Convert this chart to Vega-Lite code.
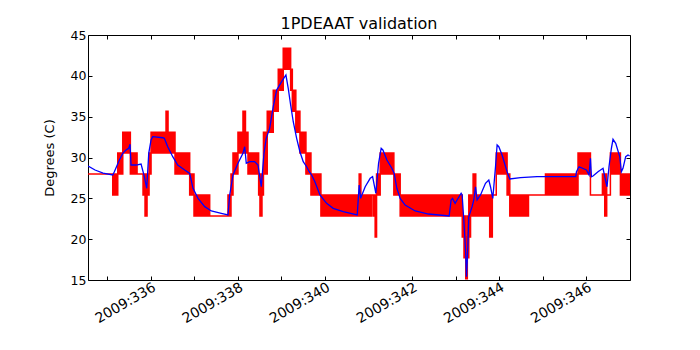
{
  "$schema": "https://vega.github.io/schema/vega-lite/v6.json",
  "width": 542,
  "height": 245,
  "autosize": {"type": "none"},
  "padding": {"left": 88, "top": 35, "right": 70, "bottom": 70},
  "background": "white",
  "title": {"text": "1PDEAAT validation", "fontSize": 16, "font": "DejaVu Sans", "fontWeight": "normal", "color": "black", "offset": 7, "baseline": "alphabetic", "dy": 23},
  "config": {
    "view": {"stroke": "black", "strokeWidth": 1},
    "axis": {"grid": false, "domain": false, "labelFont": "DejaVu Sans", "labelFontSize": 12, "labelColor": "black", "tickColor": "black", "tickWidth": 1, "titleFont": "DejaVu Sans", "titleFontSize": 13, "titleFontWeight": "normal", "titleColor": "black", "labelOverlap": false, "labelFlush": false}
  },
  "datasets": {
    "red": [
      {"t": 334.562, "lo": 27.97, "hi": 27.97},
      {"t": 335.128, "lo": 25.40, "hi": 27.97},
      {"t": 335.243, "lo": 27.97, "hi": 30.54},
      {"t": 335.358, "lo": 30.54, "hi": 33.10},
      {"t": 335.532, "lo": 27.97, "hi": 30.54},
      {"t": 335.686, "lo": 27.97, "hi": 27.97},
      {"t": 335.823, "lo": 25.40, "hi": 27.97},
      {"t": 335.869, "lo": 22.84, "hi": 27.97},
      {"t": 335.915, "lo": 25.40, "hi": 27.97},
      {"t": 335.961, "lo": 27.97, "hi": 30.54},
      {"t": 336.007, "lo": 30.54, "hi": 33.10},
      {"t": 336.351, "lo": 30.54, "hi": 35.67},
      {"t": 336.397, "lo": 30.54, "hi": 33.10},
      {"t": 336.557, "lo": 27.97, "hi": 30.54},
      {"t": 336.894, "lo": 25.40, "hi": 27.97},
      {"t": 336.993, "lo": 22.84, "hi": 25.40},
      {"t": 337.353, "lo": 22.84, "hi": 22.84},
      {"t": 337.773, "lo": 22.84, "hi": 25.40},
      {"t": 337.842, "lo": 25.40, "hi": 27.97},
      {"t": 337.888, "lo": 27.97, "hi": 30.54},
      {"t": 338.002, "lo": 30.54, "hi": 33.10},
      {"t": 338.117, "lo": 30.54, "hi": 35.67},
      {"t": 338.174, "lo": 30.54, "hi": 33.10},
      {"t": 338.232, "lo": 27.97, "hi": 30.54},
      {"t": 338.477, "lo": 25.40, "hi": 27.97},
      {"t": 338.507, "lo": 22.84, "hi": 27.97},
      {"t": 338.553, "lo": 25.40, "hi": 27.97},
      {"t": 338.587, "lo": 27.97, "hi": 33.10},
      {"t": 338.674, "lo": 33.10, "hi": 35.67},
      {"t": 338.812, "lo": 35.67, "hi": 38.24},
      {"t": 338.927, "lo": 38.24, "hi": 40.80},
      {"t": 339.041, "lo": 40.80, "hi": 43.37},
      {"t": 339.211, "lo": 38.24, "hi": 40.80},
      {"t": 339.250, "lo": 35.67, "hi": 38.24},
      {"t": 339.330, "lo": 33.10, "hi": 35.67},
      {"t": 339.424, "lo": 30.54, "hi": 33.10},
      {"t": 339.562, "lo": 27.97, "hi": 30.54},
      {"t": 339.677, "lo": 25.40, "hi": 27.97},
      {"t": 339.906, "lo": 22.84, "hi": 25.40},
      {"t": 340.784, "lo": 22.84, "hi": 27.97},
      {"t": 340.823, "lo": 22.84, "hi": 25.40},
      {"t": 341.076, "lo": 25.40, "hi": 25.40},
      {"t": 341.115, "lo": 22.84, "hi": 25.40},
      {"t": 341.151, "lo": 20.27, "hi": 25.40},
      {"t": 341.183, "lo": 25.40, "hi": 27.97},
      {"t": 341.266, "lo": 27.97, "hi": 30.54},
      {"t": 341.580, "lo": 25.40, "hi": 27.97},
      {"t": 341.725, "lo": 22.84, "hi": 25.40},
      {"t": 343.150, "lo": 20.27, "hi": 22.84},
      {"t": 343.190, "lo": 17.71, "hi": 22.84},
      {"t": 343.230, "lo": 15.14, "hi": 20.27},
      {"t": 343.266, "lo": 17.71, "hi": 22.84},
      {"t": 343.300, "lo": 20.27, "hi": 25.40},
      {"t": 343.340, "lo": 22.84, "hi": 25.40},
      {"t": 343.399, "lo": 22.84, "hi": 27.97},
      {"t": 343.460, "lo": 22.84, "hi": 25.40},
      {"t": 343.780, "lo": 20.27, "hi": 25.40},
      {"t": 343.840, "lo": 25.40, "hi": 25.40},
      {"t": 343.930, "lo": 27.97, "hi": 30.54},
      {"t": 344.179, "lo": 25.40, "hi": 27.97},
      {"t": 344.241, "lo": 22.84, "hi": 25.40},
      {"t": 344.670, "lo": 25.40, "hi": 25.40},
      {"t": 345.060, "lo": 25.40, "hi": 27.97},
      {"t": 345.807, "lo": 27.97, "hi": 30.54},
      {"t": 346.092, "lo": 25.40, "hi": 25.40},
      {"t": 346.367, "lo": 25.40, "hi": 27.97},
      {"t": 346.420, "lo": 22.84, "hi": 27.97},
      {"t": 346.465, "lo": 25.40, "hi": 25.40},
      {"t": 346.550, "lo": 27.97, "hi": 30.54},
      {"t": 346.780, "lo": 25.40, "hi": 27.97},
      {"t": 346.993, "lo": 25.40, "hi": 27.97}
    ],
    "blue": [
      {"t": 334.562, "v": 28.96}, {"t": 334.722, "v": 28.47}, {"t": 334.906, "v": 28.10}, {"t": 335.128, "v": 27.86},
      {"t": 335.165, "v": 28.26}, {"t": 335.280, "v": 29.69}, {"t": 335.358, "v": 30.51}, {"t": 335.433, "v": 30.92},
      {"t": 335.495, "v": 31.13}, {"t": 335.525, "v": 31.62}, {"t": 335.548, "v": 29.08}, {"t": 335.663, "v": 29.08},
      {"t": 335.778, "v": 29.20}, {"t": 335.853, "v": 27.65}, {"t": 335.908, "v": 26.23}, {"t": 335.954, "v": 30.51},
      {"t": 336.007, "v": 32.14}, {"t": 336.046, "v": 32.55}, {"t": 336.275, "v": 32.42}, {"t": 336.312, "v": 32.35},
      {"t": 336.390, "v": 31.32}, {"t": 336.505, "v": 30.10}, {"t": 336.619, "v": 29.08}, {"t": 336.780, "v": 28.47},
      {"t": 336.894, "v": 28.06}, {"t": 336.970, "v": 26.23}, {"t": 337.085, "v": 25.00}, {"t": 337.239, "v": 23.98},
      {"t": 337.390, "v": 23.45}, {"t": 337.619, "v": 23.17}, {"t": 337.773, "v": 22.96}, {"t": 337.812, "v": 25.41},
      {"t": 337.888, "v": 27.86}, {"t": 338.002, "v": 29.29}, {"t": 338.117, "v": 30.51}, {"t": 338.156, "v": 31.32},
      {"t": 338.193, "v": 29.29}, {"t": 338.271, "v": 29.49}, {"t": 338.385, "v": 29.49}, {"t": 338.461, "v": 29.08},
      {"t": 338.537, "v": 26.42}, {"t": 338.599, "v": 30.51}, {"t": 338.651, "v": 32.35}, {"t": 338.729, "v": 33.57},
      {"t": 338.812, "v": 36.22}, {"t": 338.890, "v": 38.26}, {"t": 339.005, "v": 39.28}, {"t": 339.103, "v": 40.10},
      {"t": 339.156, "v": 38.47}, {"t": 339.211, "v": 36.43}, {"t": 339.271, "v": 34.38}, {"t": 339.349, "v": 32.35},
      {"t": 339.424, "v": 30.71}, {"t": 339.500, "v": 29.49}, {"t": 339.578, "v": 28.87}, {"t": 339.638, "v": 28.26},
      {"t": 339.693, "v": 27.86}, {"t": 339.768, "v": 27.04}, {"t": 339.883, "v": 25.41}, {"t": 340.037, "v": 24.39},
      {"t": 340.188, "v": 23.78}, {"t": 340.417, "v": 23.36}, {"t": 340.739, "v": 22.96}, {"t": 340.784, "v": 26.63},
      {"t": 340.817, "v": 25.00}, {"t": 340.922, "v": 26.42}, {"t": 341.037, "v": 27.45}, {"t": 341.092, "v": 27.65},
      {"t": 341.167, "v": 25.62}, {"t": 341.229, "v": 29.29}, {"t": 341.289, "v": 31.13}, {"t": 341.328, "v": 30.92},
      {"t": 341.420, "v": 29.69}, {"t": 341.534, "v": 28.68}, {"t": 341.587, "v": 28.06}, {"t": 341.649, "v": 26.23},
      {"t": 341.725, "v": 25.00}, {"t": 341.839, "v": 24.18}, {"t": 342.069, "v": 23.45}, {"t": 342.376, "v": 23.08},
      {"t": 342.849, "v": 22.84}, {"t": 342.894, "v": 24.80}, {"t": 342.927, "v": 25.00}, {"t": 342.986, "v": 24.39},
      {"t": 343.032, "v": 24.80}, {"t": 343.124, "v": 25.62}, {"t": 343.147, "v": 25.41}, {"t": 343.186, "v": 22.35},
      {"t": 343.225, "v": 18.67}, {"t": 343.248, "v": 15.40}, {"t": 343.278, "v": 19.08}, {"t": 343.300, "v": 22.75},
      {"t": 343.376, "v": 23.98}, {"t": 343.415, "v": 24.80}, {"t": 343.454, "v": 26.42}, {"t": 343.491, "v": 24.80},
      {"t": 343.569, "v": 25.41}, {"t": 343.683, "v": 26.84}, {"t": 343.759, "v": 27.24}, {"t": 343.798, "v": 26.42},
      {"t": 343.851, "v": 25.00}, {"t": 343.913, "v": 28.87}, {"t": 343.950, "v": 31.53}, {"t": 343.989, "v": 31.32},
      {"t": 344.064, "v": 30.31}, {"t": 344.179, "v": 28.26}, {"t": 344.241, "v": 27.37}, {"t": 344.486, "v": 27.53},
      {"t": 344.867, "v": 27.65}, {"t": 345.755, "v": 27.65}, {"t": 345.771, "v": 28.26}, {"t": 345.830, "v": 28.87},
      {"t": 346.000, "v": 28.47}, {"t": 346.060, "v": 27.86}, {"t": 346.092, "v": 29.90}, {"t": 346.115, "v": 27.65},
      {"t": 346.151, "v": 27.73}, {"t": 346.266, "v": 28.26}, {"t": 346.381, "v": 28.68}, {"t": 346.420, "v": 27.65},
      {"t": 346.472, "v": 26.42}, {"t": 346.518, "v": 28.87}, {"t": 346.573, "v": 31.13}, {"t": 346.610, "v": 32.23},
      {"t": 346.672, "v": 31.74}, {"t": 346.764, "v": 30.10}, {"t": 346.803, "v": 28.26}, {"t": 346.839, "v": 28.68},
      {"t": 346.901, "v": 30.10}, {"t": 346.954, "v": 30.31}, {"t": 346.993, "v": 30.18}
    ]
  },
  "layer": [
    {
      "data": {"name": "red"},
      "mark": {"type": "area", "interpolate": "step-after", "fill": "#ff0000", "stroke": "#ff0000", "strokeWidth": 1.5, "clip": true},
      "encoding": {
        "x": {
          "field": "t", "type": "quantitative",
          "scale": {"domain": [334.56, 347.0], "nice": false, "zero": false},
          "axis": {"orient": "bottom", "values": [335, 336, 337, 338, 339, 340, 341, 342, 343, 344, 345, 346],
                   "labelExpr": "datum.value % 2 === 0 ? '2009:' + datum.value : ''",
                   "tickSize": -4, "labelAngle": -30, "labelAlign": "right", "labelBaseline": "top", "labelPadding": 4, "labelFontSize": 14, "title": null}
        },
        "y": {
          "field": "hi", "type": "quantitative",
          "scale": {"domain": [15, 45], "nice": false, "zero": false},
          "axis": {"orient": "left", "values": [15, 20, 25, 30, 35, 40, 45], "tickSize": -4, "labelPadding": 6, "labelFontSize": 12.5, "title": "Degrees (C)", "titlePadding": 14}
        },
        "y2": {"field": "lo"}
      }
    },
    {
      "data": {"name": "blue"},
      "mark": {"type": "line", "color": "#0000ff", "strokeWidth": 1.3, "clip": true},
      "encoding": {
        "x": {
          "field": "t", "type": "quantitative",
          "axis": {"orient": "top", "values": [335, 336, 337, 338, 339, 340, 341, 342, 343, 344, 345, 346], "labels": false, "tickSize": -4, "title": null}
        },
        "y": {
          "field": "v", "type": "quantitative",
          "axis": {"orient": "right", "values": [15, 20, 25, 30, 35, 40, 45], "labels": false, "tickSize": -4, "title": null}
        }
      }
    }
  ],
  "resolve": {"axis": {"x": "independent", "y": "independent"}}
}
